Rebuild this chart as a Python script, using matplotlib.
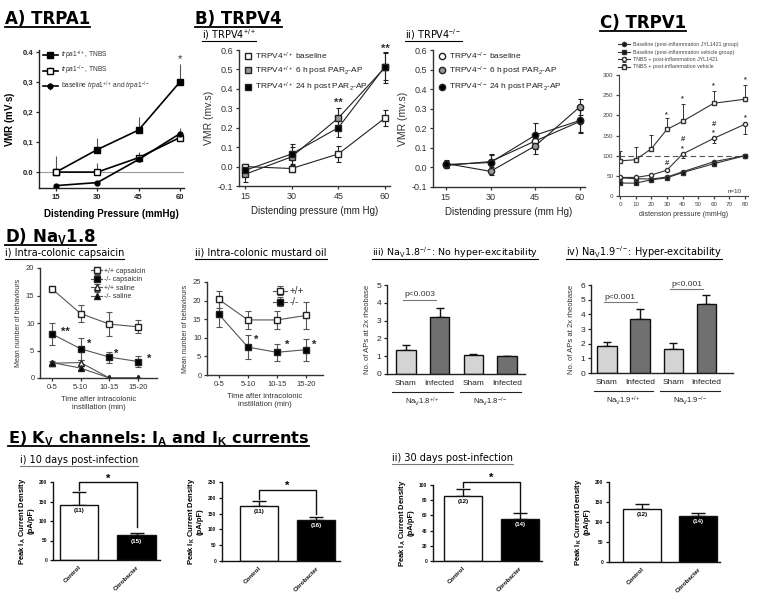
import matplotlib
matplotlib.use("Agg")
import matplotlib.pyplot as plt
import numpy as np
from matplotlib.lines import Line2D
from matplotlib.transforms import blended_transform_factory as btf

plt.rcParams['font.family'] = ['Liberation Sans', 'DejaVu Sans']
plt.rcParams['mathtext.fontset'] = 'custom'
plt.rcParams['mathtext.rm'] = 'Liberation Sans'
plt.rcParams['mathtext.it'] = 'Liberation Sans:italic'
plt.rcParams['mathtext.bf'] = 'Liberation Sans:bold'

# ---------------- DATA ----------------
# A) TRPA1
A_x = [15, 30, 45, 60]
A_wt_tnbs = [0.0, 0.075, 0.14, 0.30]
A_wt_err = [0.055, 0.04, 0.045, 0.06]
A_ko_tnbs = [0.0, 0.0, 0.048, 0.115]
A_ko_err = [0.0, 0.03, 0.02, 0.02]
A_base = [-0.045, -0.035, 0.042, 0.128]
A_base_err = [0.0, 0.0, 0.01, 0.02]
A_yticks = [0.0, 0.1, 0.2, 0.3, 0.4]
A_yticklabels = ["0.0", "0,1", "0,2", "0,3", "0.4"]

# B) TRPV4
B_x = [15, 30, 45, 60]
B1_base = [0.0, -0.01, 0.065, 0.25]
B1_base_err = [0.015, 0.02, 0.04, 0.04]
B1_6h = [-0.04, 0.05, 0.25, 0.51]
B1_6h_err = [0.04, 0.05, 0.05, 0.08]
B1_24h = [-0.02, 0.065, 0.20, 0.515]
B1_24h_err = [0.03, 0.05, 0.05, 0.07]
B2_base = [0.01, 0.03, 0.135, 0.235]
B2_base_err = [0.015, 0.04, 0.04, 0.06]
B2_6h = [0.02, -0.02, 0.11, 0.31]
B2_6h_err = [0.02, 0.02, 0.04, 0.04]
B2_24h = [0.015, 0.025, 0.165, 0.24]
B2_24h_err = [0.02, 0.04, 0.06, 0.06]

# C) TRPV1
C_x = [0, 10, 20, 30, 40, 60, 80]
C_base_jyl = [45, 43, 42, 47, 60, 85, 100]
C_base_veh = [32, 32, 40, 45, 58, 80, 100]
C_tnbs_jyl = [46, 46, 52, 64, 104, 143, 178]
C_tnbs_jyl_err = [0, 0, 0, 0, 10, 12, 25]
C_tnbs_veh = [87, 90, 117, 165, 185, 230, 240]
C_tnbs_veh_err = [25, 32, 35, 28, 42, 30, 35]

# D) NaV1.8
D_cats = ["0-5", "5-10", "10-15", "15-20"]
D1_wt_caps = [16.2, 11.7, 9.8, 9.3]
D1_wt_caps_err = [0.5, 1.6, 2.2, 1.2]
D1_ko_caps = [8.0, 5.3, 3.8, 3.0]
D1_ko_caps_err = [2.0, 2.0, 1.0, 1.0]
D1_wt_sal = [2.7, 2.8, 0.0, 0.0]
D1_wt_sal_err = [0.3, 0.5, 0.0, 0.0]
D1_ko_sal = [2.8, 1.8, 0.0, 0.0]
D1_ko_sal_err = [0.3, 0.3, 0.0, 0.0]
D2_wt = [20.3, 14.8, 14.8, 16.0]
D2_wt_err = [2.3, 2.3, 2.5, 3.7]
D2_ko = [16.3, 7.5, 6.1, 6.8]
D2_ko_err = [3.3, 3.3, 2.3, 3.0]
D_bar_cats = ["Sham", "Infected", "Sham", "Infected"]
D3_vals = [1.35, 3.2, 1.08, 1.0]
D3_err = [0.27, 0.5, 0.05, 0.0]
D4_vals = [1.85, 3.65, 1.65, 4.7]
D4_err = [0.28, 0.7, 0.4, 0.6]

# E) Kv
E_cats = ["Control", "Citrobacter"]
E1_IA = [142, 63]; E1_IA_err = [33, 7]; E1_IA_n = ["(11)", "(15)"]
E1_IK = [173, 130]; E1_IK_err = [17, 10]; E1_IK_n = ["(11)", "(16)"]
E2_IA = [85, 55]; E2_IA_err = [10, 8]; E2_IA_n = ["(12)", "(14)"]
E2_IK = [132, 115]; E2_IK_err = [13, 7]; E2_IK_n = ["(12)", "(14)"]

# ---------------- FIGURE ----------------
W, H = 760, 598
fig = plt.figure(figsize=(W / 100, H / 100), dpi=100)
fig.patch.set_facecolor('white')


def axpx(l, t, r, b):
    return fig.add_axes([l / W, 1 - b / H, (r - l) / W, (b - t) / H])


def style(ax, size=5, bold=False, color='k'):
    for s in ['top', 'right']:
        ax.spines[s].set_visible(False)
    for s in ['left', 'bottom']:
        ax.spines[s].set_linewidth(1.0)
        ax.spines[s].set_color(color)
    ax.tick_params(direction='out', length=2.5, width=0.9, labelsize=size, pad=1.5, colors=color)
    ax.set_facecolor('none')
    if bold:
        for lab in ax.get_xticklabels() + ax.get_yticklabels():
            lab.set_fontweight('bold')


underlines = []


def utext(x, y, s, size, weight='normal', ucolor='k', uoff=2.5, lw=1.0, family=None, color='k'):
    kw = {}
    if family:
        kw['family'] = family
    t = fig.text(x / W, 1 - y / H, s, fontsize=size, fontweight=weight, va='baseline', ha='left', color=color, **kw)
    underlines.append((t, y, ucolor, uoff, lw))
    return t


# Headings
utext(5, 24, "A) TRPA1", 12, 'bold', family='DejaVu Sans', lw=1.3)
utext(195, 24, "B) TRPV4", 12, 'bold', family='DejaVu Sans', lw=1.3)
utext(600, 28, "C) TRPV1", 12, 'bold', family='DejaVu Sans', lw=1.3)
utext(5, 242, r"D) Na$_\mathbf{V}$1.8", 12, 'bold', family='DejaVu Sans', lw=1.3)
utext(8, 443, r"E) K$_\mathbf{V}$ channels: I$_\mathbf{A}$ and I$_\mathbf{K}$ currents", 11.6, 'bold',
      family='DejaVu Sans', lw=1.3)

# Subheadings
utext(202, 38, r"i) TRPV4$^{+/+}$", 7, family='DejaVu Sans', uoff=2.5, lw=0.8)
utext(405, 38, r"ii) TRPV4$^{-/-}$", 7, family='DejaVu Sans', uoff=2.5, lw=0.8)
utext(5, 256, "i) Intra-colonic capsaicin", 7, family='DejaVu Sans', lw=0.8)
utext(195, 256, "ii) Intra-colonic mustard oil", 7, family='DejaVu Sans', lw=0.8)
utext(372, 256, r"iii) Na$_\mathrm{V}$1.8$^{-/-}$: No hyper-excitability", 6.8, family='DejaVu Sans', lw=0.8)
utext(566, 256, r"iv) Na$_\mathrm{V}$1.9$^{-/-}$: Hyper-excitability", 7, family='DejaVu Sans', lw=0.8)
utext(20, 463, "i) 10 days post-infection", 7, family='DejaVu Sans', ucolor='#777', lw=0.8)
utext(392, 461, "ii) 30 days post-infection", 7, family='DejaVu Sans', ucolor='#777', lw=0.8)

# ---------------- A ----------------
ax = axpx(39, 50, 184, 188)
ax.axhline(0, color='#999', lw=0.8, zorder=0)
z = np.zeros(4)
ax.errorbar(A_x, A_wt_tnbs, yerr=[z, A_wt_err], fmt='-s', color='k', mfc='k', mec='k', ms=4,
            lw=1.2, ecolor='#555', elinewidth=0.8, capsize=0, label=r"$\it{trpa1}^{+/+}$, TNBS")
ax.errorbar(A_x, A_ko_tnbs, yerr=[z, A_ko_err], fmt='-s', color='k', mfc='white', mec='k', ms=4,
            lw=1.2, ecolor='#555', elinewidth=0.8, capsize=0, label=r"$\it{trpa1}^{-/-}$, TNBS")
ax.errorbar(A_x, A_base, yerr=[z, A_base_err], fmt='-o', color='k', mfc='k', mec='k', ms=3.5,
            lw=1.2, ecolor='#555', elinewidth=0.8, capsize=0,
            label=r"baseline $\it{trpa1}^{+/+}$ and $\it{trpa1}^{-/-}$")
ax.set_xlim(8.8, 61.5)
ax.set_ylim(-0.053, 0.4067)
ax.set_xticks(A_x)
ax.set_yticks(A_yticks)
ax.set_yticklabels(A_yticklabels)
style(ax, size=5.5, bold=True, color='#222')
ax.text(60, 0.375, "*", ha='center', va='center', fontsize=8, color='#333')
ax.set_ylabel(r"VMR (mV$\cdot$s)", fontsize=7, fontweight='bold', labelpad=4)
ax.set_xlabel("Distending Pressure (mmHg)", fontsize=7, fontweight='bold', labelpad=6)
leg = ax.legend(loc='upper left', bbox_to_anchor=(0.0, 1.04), frameon=False, fontsize=4.8,
                handlelength=2.2, labelspacing=0.35, borderpad=0.1, handletextpad=0.5)
for t in leg.get_texts():
    t.set_color('#333')

# ---------------- B i ----------------
def bpanel(ax, series, marker, labels):
    cols = ['white', '#999999', 'black']
    for (y, e), c, lab in zip(series, cols, labels):
        ax.errorbar(B_x, y, yerr=e, fmt='-' + marker, color='#222', mfc=c, mec='#222', ms=4.5,
                    lw=0.8, elinewidth=0.8, capsize=1.8, capthick=0.8, label=lab)
    ax.set_ylim(-0.1, 0.6)
    ax.set_xticks(B_x)
    ax.set_yticks([-0.1, 0.0, 0.1, 0.2, 0.3, 0.4, 0.5, 0.6])
    ax.set_yticklabels(["-0.1", "0.0", "0.1", "0.2", "0.3", "0.4", "0.5", "0.6"])
    style(ax, size=6.5, color='#333')
    ax.set_ylabel("VMR (mv.s)", fontsize=7.5, labelpad=3, color='#333')
    ax.set_xlabel("Distending pressure (mm Hg)", fontsize=7, labelpad=4, color='#222')
    h = [Line2D([], [], ls='none', marker=marker, mfc=c, mec='#222', ms=4.5) for c in cols]
    leg = ax.legend(h, labels, loc='upper left', bbox_to_anchor=(0.0, 1.04), frameon=False,
                    fontsize=6, handlelength=0.8, labelspacing=0.35, borderpad=0.2, handletextpad=0.4)
    for t in leg.get_texts():
        t.set_color('#222')


ax = axpx(239, 50, 390, 186)
bpanel(ax, [(B1_base, B1_base_err), (B1_6h, B1_6h_err), (B1_24h, B1_24h_err)], 's',
       [r"TRPV4$^{+/+}$ baseline", r"TRPV4$^{+/+}$ 6 h post PAR$_2$-AP", r"TRPV4$^{+/+}$ 24 h post PAR$_2$-AP"])
ax.set_xlim(13.1, 61.6)
ax.text(45, 0.33, "**", ha='center', va='center', fontsize=8, fontweight='bold', color='#333')
ax.text(60, 0.605, "**", ha='center', va='center', fontsize=8, fontweight='bold', color='#333', clip_on=False)

# ---------------- B ii ----------------
ax = axpx(433, 50, 585, 187)
bpanel(ax, [(B2_base, B2_base_err), (B2_6h, B2_6h_err), (B2_24h, B2_24h_err)], 'o',
       [r"TRPV4$^{-/-}$ baseline", r"TRPV4$^{-/-}$ 6 h post PAR$_2$-AP", r"TRPV4$^{-/-}$ 24 h post PAR$_2$-AP"])
ax.set_xlim(10.7, 61.7)

# ---------------- C ----------------
ax = axpx(619, 75, 748, 196)
ax.axhline(100, ls=(0, (5, 3)), color='#555', lw=0.8, zorder=0)
z7 = np.zeros(7)
kw = dict(color='#333', lw=0.8, ms=3, elinewidth=0.7, capsize=1.5, capthick=0.7, mec='#333')
ax.errorbar(C_x, C_base_jyl, fmt='-o', mfc='#111', label="Baseline (post-inflammation JYL1421 group)", **kw)
ax.errorbar(C_x, C_base_veh, fmt='-s', mfc='#111', label="Baseline (post-inflammation vehicle group)", **kw)
ax.errorbar(C_x, C_tnbs_jyl, yerr=[C_tnbs_jyl_err, z7], fmt='-o', mfc='white',
            label="TNBS + post-inflammation JYL1421", **kw)
ax.errorbar(C_x, C_tnbs_veh, yerr=[z7, C_tnbs_veh_err], fmt='-s', mfc='white',
            label="TNBS + post-inflammation vehicle", **kw)
ax.set_xlim(-0.64, 81.9)
ax.set_ylim(0, 300)
ax.set_xticks(range(0, 81, 10))
ax.set_yticks(range(0, 301, 50))
style(ax, size=4.5, color='#444')
ax.spines['left'].set_linewidth(0.8)
ax.spines['bottom'].set_linewidth(0.8)
ax.set_xlabel("distension pressure (mmHg)", fontsize=5, labelpad=3, color='#333')
for xx, yy, s in [(30, 202, "*"), (40, 240, "*"), (60, 274, "*"), (80, 289, "*"),
                  (30, 80, "#"), (40, 139, "#"), (40, 117, "*"), (60, 178, "#"), (60, 156, "*"), (80, 193, "*")]:
    ax.text(xx, yy, s, ha='center', va='center', fontsize=5.2 if s == "*" else 5.5, color='#333',
            fontweight='bold', clip_on=False)
ax.text(78, 12, "n=10", ha='right', va='center', fontsize=4.5, color='#333')
leg = ax.legend(loc='lower left', bbox_to_anchor=(-0.03, 1.02), frameon=False, fontsize=3.8,
                handlelength=2.2, labelspacing=0.45, borderpad=0.1, handletextpad=0.6)
for t in leg.get_texts():
    t.set_color('#444')

# ---------------- D i ----------------
xi = np.arange(4)
ax = axpx(40, 268, 157, 378)
kw = dict(color='#555', lw=0.8, elinewidth=0.8, capsize=2, capthick=0.8, mec='#222')
ax.errorbar(xi, D1_wt_caps, yerr=D1_wt_caps_err, fmt='-s', mfc='white', ms=4, label="+/+ capsaicin", **kw)
ax.errorbar(xi, D1_ko_caps, yerr=D1_ko_caps_err, fmt='-s', mfc='black', ms=4, label="-/- capsaicin", **kw)
ax.errorbar(xi, D1_wt_sal, yerr=D1_wt_sal_err, fmt='-^', mfc='white', ms=4, label="+/+ saline", **kw)
ax.errorbar(xi, D1_ko_sal, yerr=D1_ko_sal_err, fmt='-^', mfc='black', ms=4, label="-/- saline", **kw)
ax.set_xlim(-0.42, 3.66)
ax.set_ylim(0, 20)
ax.set_xticks(xi)
ax.set_xticklabels(D_cats)
ax.set_yticks([0, 5, 10, 15, 20])
style(ax, size=5.5, color='#333')
ax.set_ylabel("Mean number of behaviours", fontsize=5, labelpad=3, color='#333')
ax.set_xlabel("Time after intracolonic\ninstillation (min)", fontsize=5.5, labelpad=4, color='#333')
for xx, yy, s in [(0.45, 8.4, "**"), (1.28, 6.2, "*"), (2.25, 4.4, "*"), (3.38, 3.5, "*")]:
    ax.text(xx, yy, s, ha='center', va='center', fontsize=8, fontweight='bold', color='#222')
leg = ax.legend(loc='upper left', bbox_to_anchor=(0.40, 1.04), frameon=False, fontsize=5,
                handlelength=1.6, labelspacing=0.2, borderpad=0.1, handletextpad=0.3)
for t in leg.get_texts():
    t.set_color('#333')

# ---------------- D ii ----------------
ax = axpx(207, 282, 323, 375)
ax.errorbar(xi, D2_wt, yerr=D2_wt_err, fmt='-s', mfc='white', ms=4.5, label="+/+", **kw)
ax.errorbar(xi, D2_ko, yerr=D2_ko_err, fmt='-s', mfc='black', ms=4.5, label="-/-", **kw)
ax.set_xlim(-0.41, 3.59)
ax.set_ylim(0, 25)
ax.set_xticks(xi)
ax.set_xticklabels(D_cats)
ax.set_yticks([0, 5, 10, 15, 20, 25])
style(ax, size=5.5, color='#333')
ax.set_ylabel("Mean number of behaviours", fontsize=5, labelpad=3, color='#333')
ax.set_xlabel("Time after intracolonic\ninstillation (min)", fontsize=5.5, labelpad=4, color='#333')
for xx, yy, s in [(1.27, 9.4, "*"), (2.35, 8.1, "*"), (3.3, 8.1, "*")]:
    ax.text(xx, yy, s, ha='center', va='center', fontsize=8, fontweight='bold', color='#222')
leg = ax.legend(loc='upper left', bbox_to_anchor=(0.52, 1.02), frameon=False, fontsize=7,
                handlelength=1.4, labelspacing=0.1, borderpad=0.1, handletextpad=0.3)
for t in leg.get_texts():
    t.set_color('#333')


# ---------------- D iii / iv ----------------
def barpanel(ax, vals, errs, ymax, groups, ptexts, ptxt):
    cols = ['#d4d4d4', '#707070', '#d4d4d4', '#707070']
    ax.bar(xi, vals, width=0.58, color=cols, edgecolor='#111', lw=1.0, zorder=2)
    ax.errorbar(xi, vals, yerr=[np.zeros(4), errs], fmt='none', ecolor='#111', elinewidth=1.0,
                capsize=3, capthick=1.0, zorder=1)
    ax.set_ylim(0, ymax)
    ax.set_yticks(range(0, ymax + 1))
    ax.set_xticks(xi)
    ax.set_xticklabels(D_bar_cats)
    style(ax, size=6, color='#222')
    ax.tick_params(axis='x', length=0, pad=4)
    ax.set_ylabel("No. of APs at 2x rheobase", fontsize=5.5, labelpad=4, color='#333')
    tr = btf(ax.transData, ax.transAxes)
    for (a, b), g in zip([(-0.4, 1.4), (1.6, 3.4)], groups):
        ax.plot([a, b], [-0.2, -0.2], color='#222', lw=0.8, transform=tr, clip_on=False)
        ax.text((a + b) / 2, -0.24, g, ha='center', va='top', fontsize=5.5, transform=tr, color='#222')
    for (a, b, yl, yt) in ptexts:
        ax.plot([a, b], [yl, yl], color='#777', lw=0.8, clip_on=False)
        ax.text((a + b) / 2, yt, ptxt, ha='center', va='bottom', fontsize=6, color='#333', clip_on=False)


ax = axpx(387, 285, 525, 374)
ax.set_xlim(-0.56, 3.53)
barpanel(ax, D3_vals, D3_err, 5, [r"Na$_\mathrm{V}$1.8$^{+/+}$", r"Na$_\mathrm{V}$1.8$^{-/-}$"],
         [(-0.1, 0.9, 4.16, 4.25)], "p<0.003")

ax = axpx(591, 285, 733, 373)
ax.set_xlim(-0.48, 3.8)
barpanel(ax, D4_vals, D4_err, 6, [r"Na$_\mathrm{V}$1.9$^{+/+}$", r"Na$_\mathrm{V}$1.9$^{-/-}$"],
         [(-0.1, 0.9, 4.84, 4.92), (1.9, 2.9, 5.73, 5.81)], "p<0.001")


# ---------------- E ----------------
def epanel(ax, vals, errs, ns, ymax, step, ylab, bracket=None):
    x2 = np.arange(2)
    ax.bar(x2, vals, width=0.67, color=['white', 'black'], edgecolor='#111', lw=1.0, zorder=2)
    ax.errorbar(x2, vals, yerr=[np.zeros(2), errs], fmt='none', ecolor='#111', elinewidth=1.0,
                capsize=5, capthick=1.0, zorder=1)
    ax.set_ylim(0, ymax)
    ax.set_yticks(np.arange(0, ymax + 1, step))
    ax.set_xticks(x2)
    ax.set_xticklabels(E_cats, rotation=45, ha='right', rotation_mode='anchor')
    style(ax, size=3.5, bold=True, color='#111')
    for lab in ax.get_xticklabels():
        lab.set_fontsize(4.5)
    ax.tick_params(axis='x', length=0, pad=3)
    ax.set_ylabel(ylab, fontsize=5.5, fontweight='bold', labelpad=3, linespacing=1.1)
    for xx, v, n, c in zip(x2, vals, ns, ['k', 'white']):
        ax.text(xx, v - ymax * 0.04, n, ha='center', va='top', fontsize=4.5, fontweight='bold', color=c, zorder=3)
    if bracket:
        lb, top, rb, st = bracket
        ax.plot([0, 0, 1, 1], [lb, top, top, rb], color='#111', lw=1.0, clip_on=False)
        ax.text(0.5, st, "*", ha='center', va='center', fontsize=8, fontweight='bold', clip_on=False)


lab_A = "Peak I$_\\mathbf{A}$ Current Density\n(pA/pF)"
lab_K = "Peak I$_\\mathbf{K}$ Current Density\n(pA/pF)"
ax = axpx(53, 482, 160, 560)
ax.set_xlim(-0.45, 1.40)
epanel(ax, E1_IA, E1_IA_err, E1_IA_n, 200, 50, lab_A, (180, 200, 85, 209))
ax = axpx(222, 482, 340, 561)
ax.set_xlim(-0.65, 1.42)
epanel(ax, E1_IK, E1_IK_err, E1_IK_n, 250, 50, lab_K, (195, 225, 150, 238))
ax = axpx(433, 485, 542, 561)
ax.set_xlim(-0.53, 1.39)
epanel(ax, E2_IA, E2_IA_err, E2_IA_n, 100, 20, lab_A, (97, 104, 65, 110))
ax = axpx(609, 482, 720, 562)
ax.set_xlim(-0.59, 1.39)
epanel(ax, E2_IK, E2_IK_err, E2_IK_n, 200, 50, lab_K)

# ---------------- underlines ----------------
fig.canvas.draw()
for t, y, uc, uoff, lw in underlines:
    bb = t.get_window_extent()
    yy = (H - y - uoff) / H
    fig.add_artist(Line2D([bb.x0 / W, bb.x1 / W], [yy, yy], color=uc, lw=lw, transform=fig.transFigure))

fig.savefig("out.png", dpi=100, facecolor='white')
